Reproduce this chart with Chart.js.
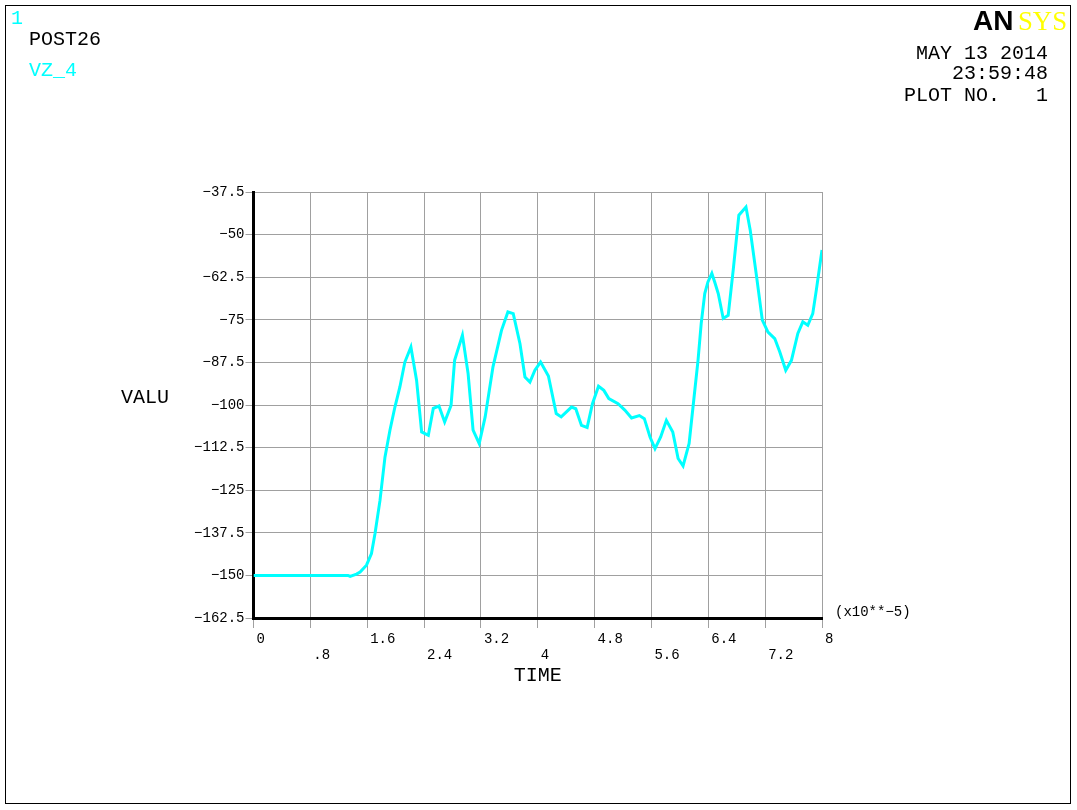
<!DOCTYPE html>
<html>
<head>
  <meta charset="UTF-8">
  <title>POST26 VZ_4</title>
  <script src="https://cdn.jsdelivr.net/npm/chart.js"></script>
  <style>
    body {
      margin: 0;
      padding: 0;
      background: #ffffff;
    }
    canvas {
      display: block;
    }
  </style>
</head>
<body>
  <canvas id="plot" width="1077" height="810"></canvas>

  <script>
    // TIME (x10**-5)
    const timeValues = [
      0, 1.21, 1.33, 1.36, 1.45, 1.50, 1.59, 1.66, 1.71, 1.78,
      1.85, 1.92, 1.99, 2.06, 2.13, 2.215, 2.295, 2.366, 2.46, 2.53,
      2.61, 2.69, 2.78, 2.83, 2.94, 3.02, 3.09, 3.176, 3.26, 3.37,
      3.49, 3.58, 3.655, 3.75, 3.82, 3.89, 3.96, 4.04, 4.15, 4.26,
      4.33, 4.475, 4.535, 4.615, 4.695, 4.77, 4.855, 4.93, 5.00, 5.13,
      5.225, 5.32, 5.43, 5.50, 5.58, 5.65, 5.73, 5.81, 5.90, 5.975,
      6.045, 6.13, 6.195, 6.255, 6.30, 6.35, 6.395, 6.45, 6.49, 6.54,
      6.61, 6.68, 6.75, 6.83, 6.93, 6.99, 7.08, 7.16, 7.24, 7.335,
      7.405, 7.49, 7.57, 7.66, 7.73, 7.80, 7.87, 7.92, 8.00
    ];
    // VZ_4
    const vzValues = [
      -150, -150, -150, -150.3, -149.6, -149, -147, -143.6, -137.7, -128,
      -115.3, -107.4, -100.6, -94.7, -87.4, -83, -92.8, -107.9, -108.9, -101,
      -100.3, -105, -100.1, -86.9, -79.5, -90.8, -107.4, -111.3, -103.5, -88.8,
      -78.1, -72.7, -73.2, -82, -91.8, -93.3, -89.8, -87.4, -91.5, -102.5,
      -103.5, -100.6, -101.1, -106, -106.6, -99.6, -94.5, -95.7, -98.1, -99.6,
      -101.5, -103.8, -103.1, -104, -109.4, -112.8, -109.4, -104.5, -107.9, -115.7,
      -117.9, -111.3, -98.6, -87, -76.1, -67.3, -63.9, -61.4, -63.9, -67.3,
      -74.6, -73.7, -60.5, -44.3, -41.9, -48.7, -62.4, -75.1, -78.6, -80.5,
      -84.4, -89.8, -86.9, -79.0, -75.6, -76.6, -73.2, -66.3, -54.5
    ];

    const xTickValues = [0, 0.8, 1.6, 2.4, 3.2, 4, 4.8, 5.6, 6.4, 7.2, 8];
    const xTickLabels = ['0', '.8', '1.6', '2.4', '3.2', '4', '4.8', '5.6', '6.4', '7.2', '8'];
    const yTickValues = [-162.5, -150, -137.5, -125, -112.5, -100, -87.5, -75, -62.5, -50, -37.5];
    const yTickLabels = ['\u2212162.5', '\u2212150', '\u2212137.5', '\u2212125', '\u2212112.5', '\u2212100',
                         '\u221287.5', '\u221275', '\u221262.5', '\u221250', '\u221237.5'];

    const MONO = '"Liberation Mono", "DejaVu Sans Mono", monospace';
    const CYAN = '#00ffff';

    // frame and the ANSYS annotation text
    const annotations = {
      id: 'annotations',
      afterDraw(chart) {
        const ctx = chart.ctx;
        ctx.save();
        ctx.strokeStyle = '#000';
        ctx.lineWidth = 1;
        ctx.strokeRect(5.5, 5.5, 1065, 798);

        ctx.textBaseline = 'middle';
        ctx.font = '20px ' + MONO;
        ctx.textAlign = 'left';
        ctx.fillStyle = CYAN;
        ctx.fillText('1', 11, 19);
        ctx.fillText('VZ_4', 29, 71);
        ctx.fillStyle = '#000';
        ctx.fillText('POST26', 29, 40);
        ctx.fillText('VALU', 121, 398);

        ctx.textAlign = 'right';
        ctx.fillText('MAY 13 2014', 1048, 54);
        ctx.fillText('23:59:48', 1048, 74);
        ctx.fillText('PLOT NO.   1', 1048, 96);

        ctx.textAlign = 'left';
        ctx.font = '14px ' + MONO;
        ctx.fillText('(x10**\u22125)', 835, 612);

        // logo
        ctx.textBaseline = 'alphabetic';
        ctx.font = 'bold 28px "Liberation Sans", Arial, sans-serif';
        ctx.fillStyle = '#000';
        ctx.fillText('AN', 973, 30, 44);
        ctx.font = '28px "Liberation Serif", "Times New Roman", serif';
        ctx.fillStyle = '#ffff00';
        ctx.fillText('SYS', 1018, 30, 49);
        ctx.restore();
      }
    };

    const ctx = document.getElementById('plot').getContext('2d');
    new Chart(ctx, {
      type: 'line',
      data: {
        datasets: [{
          label: 'VZ_4',
          data: timeValues.map((t, i) => ({ x: t, y: vzValues[i] })),
          borderColor: CYAN,
          backgroundColor: CYAN,
          borderWidth: 3,
          pointRadius: 0,
          tension: 0,
          fill: false
        }]
      },
      options: {
        responsive: false,
        devicePixelRatio: 1,
        animation: false,
        layout: {
          padding: { left: 0, top: 192, right: 255, bottom: 122 }
        },
        scales: {
          x: {
            type: 'linear',
            min: 0,
            max: 8,
            afterBuildTicks: scale => {
              scale.ticks = xTickValues.map(v => ({ value: v }));
            },
            afterFit: scale => {
              scale.height = 70;
              scale.paddingLeft = 0;
              scale.paddingRight = 0;
            },
            ticks: {
              autoSkip: false,
              maxRotation: 0,
              align: 'start',
              labelOffset: 3,
              padding: 3,
              color: '#000',
              font: { family: MONO, size: 14, lineHeight: 1.15 },
              callback: (v, i) => (i % 2 ? ['', xTickLabels[i]] : xTickLabels[i])
            },
            grid: {
              color: '#a0a0a0',
              lineWidth: 1,
              drawTicks: true,
              tickLength: 10
            },
            border: { color: '#000', width: 3 },
            title: {
              display: true,
              text: 'TIME',
              color: '#000',
              padding: 0,
              font: { family: MONO, size: 20 }
            }
          },
          y: {
            type: 'linear',
            min: -162.5,
            max: -37.5,
            afterBuildTicks: scale => {
              scale.ticks = yTickValues.map(v => ({ value: v }));
            },
            afterFit: scale => {
              scale.width = 253.5;
              scale.paddingTop = 0;
              scale.paddingBottom = 0;
            },
            ticks: {
              autoSkip: false,
              padding: 1,
              color: '#000',
              font: { family: MONO, size: 14 },
              callback: (v, i) => yTickLabels[i]
            },
            grid: {
              color: '#a0a0a0',
              lineWidth: 1,
              drawTicks: true,
              tickLength: 8
            },
            border: { color: '#000', width: 3 }
          }
        },
        plugins: {
          legend: { display: false },
          tooltip: { enabled: false }
        }
      },
      plugins: [annotations]
    });
  </script>
</body>
</html>
